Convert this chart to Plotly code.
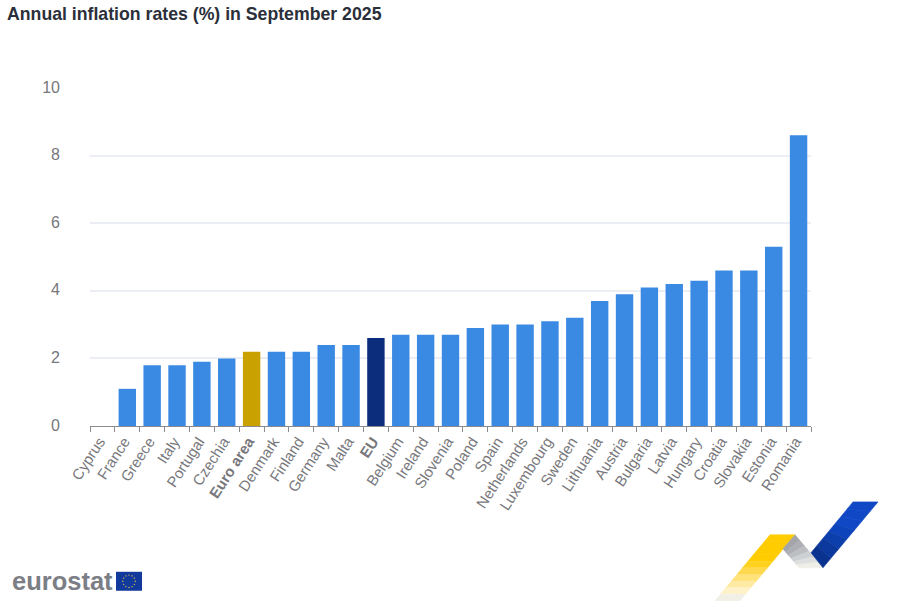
import math
import plotly.graph_objects as go

title_text = "Annual inflation rates (%) in September 2025"
countries = ["Cyprus", "France", "Greece", "Italy", "Portugal", "Czechia", "<b>Euro area</b>", "Denmark",
             "Finland", "Germany", "Malta", "<b>EU</b>", "Belgium", "Ireland", "Slovenia", "Poland", "Spain",
             "Netherlands", "Luxembourg", "Sweden", "Lithuania", "Austria", "Bulgaria", "Latvia", "Hungary",
             "Croatia", "Slovakia", "Estonia", "Romania"]
rates = [0.0, 1.1, 1.8, 1.8, 1.9, 2.0, 2.2, 2.2, 2.2, 2.4, 2.4, 2.6, 2.7, 2.7, 2.7, 2.9, 3.0, 3.0, 3.1, 3.2,
         3.7, 3.9, 4.1, 4.2, 4.3, 4.6, 4.6, 5.3, 8.6]
y_ticks = [0, 2, 4, 6, 8, 10]

BLUE, GOLD, NAVY = "#3a89e3", "#c9a100", "#0b2d7c"
bar_colors = [GOLD if "Euro" in c else NAVY if c == "<b>EU</b>" else BLUE for c in countries]

W, H = 900, 601
L, R, T, B = 90, 89, 87.5, 175


def px_x(x):
    return (x - L) / (W - L - R)


def px_y(y):
    return 1 - (y - T) / (H - T - B)


def poly(points, color):
    path = "M " + " L ".join(f"{px_x(x):.5f},{px_y(y):.5f}" for x, y in points) + " Z"
    return dict(type="path", xref="paper", yref="paper", path=path, fillcolor=color,
                line=dict(width=0.6, color=color), layer="above")


def band(a, b, c, d, stops):
    """Quad a-b (start edge) to d-c (end edge), cut in colour bands."""
    out = []
    n = len(stops)
    for i, col in enumerate(stops):
        t0, t1 = i / n, (i + 1) / n
        p = lambda s, e, t: (s[0] + (e[0] - s[0]) * t, s[1] + (e[1] - s[1]) * t)
        out.append(poly([p(a, d, t0), p(b, c, t0), p(b, c, t1), p(a, d, t1)], col))
    return out


shapes = []
# ribbon decoration
shapes += band((770, 535), (795, 535), (740, 601), (715, 601),
               ["#ffcc00", "#ffcc00", "#ffcc00", "#ffcc00", "#ffd21f", "#ffd94d", "#ffe27a", "#ffeaa3", "#fff2c8", "#f2f0e6"])
shapes += band((795, 535), (783, 549), (799, 568), (823, 568),
               ["#a3a5aa", "#adafb4", "#bcbec2", "#cdd0d2", "#dee0df", "#efefe8"])
shapes += band((878, 502), (853, 502), (811, 553), (823, 568),
               ["#0f47c4", "#0f47c4", "#0f47c4", "#0e44bb", "#0d3fac", "#0b389c", "#0a3390"])
# EU flag with its ring of stars
shapes.append(dict(type="rect", xref="paper", yref="paper", x0=px_x(116), x1=px_x(142), y0=px_y(591), y1=px_y(572),
                   fillcolor="#12399c", line=dict(width=0), layer="above"))
for k in range(12):
    sx = 129 + 6.2 * math.cos(k * math.pi / 6)
    sy = 581.5 + 6.2 * math.sin(k * math.pi / 6)
    shapes.append(dict(type="circle", xref="paper", yref="paper", x0=px_x(sx - 0.7), x1=px_x(sx + 0.7),
                       y0=px_y(sy + 0.7), y1=px_y(sy - 0.7), fillcolor="#e3c84a", line=dict(width=0), layer="above"))

fig = go.Figure(go.Bar(x=countries, y=rates, marker=dict(color=bar_colors, line=dict(width=0)), width=0.7,
                       showlegend=False))

annotations = [
    dict(text=f"<b>{title_text}</b>", xref="paper", yref="paper", x=px_x(5), y=px_y(13), xanchor="left",
         yanchor="middle", showarrow=False, font=dict(family="Liberation Sans", size=17.7, color="#2b2f3a")),
    dict(text="<b>eurostat</b>", xref="paper", yref="paper", x=px_x(10), y=px_y(581), xanchor="left",
         yanchor="middle", showarrow=False, font=dict(family="Liberation Sans", size=25.5, color="#7b7e85")),
]

fig.update_layout(
    width=W, height=H,
    margin=dict(l=L, r=R, t=T, b=B, pad=0),
    paper_bgcolor="white", plot_bgcolor="white",
    bargap=0.3,
    shapes=shapes,
    annotations=annotations,
    font=dict(family="Liberation Sans"),
    xaxis=dict(type="category", categoryorder="array", categoryarray=countries, tickson="boundaries",
               ticks="outside", ticklen=5, tickwidth=1, tickcolor="#8a8a8f", showline=True, linecolor="#8a8a8f",
               linewidth=1, showgrid=False, tickangle=-57, tickfont=dict(size=15, color="#77777c"),
               ticklabelshift=-3, range=[-0.5, 28.5]),
    yaxis=dict(range=[0, 10], tickvals=y_ticks, gridcolor="#eceef6", gridwidth=1.5, zeroline=False,
               showline=False, ticks="", ticklabelstandoff=29, ticklabelshift=-1,
               tickfont=dict(size=16, color="#77777c")),
)

fig.write_html("out.html", config={"displayModeBar": False}, post_script="document.body.style.margin='0';")
